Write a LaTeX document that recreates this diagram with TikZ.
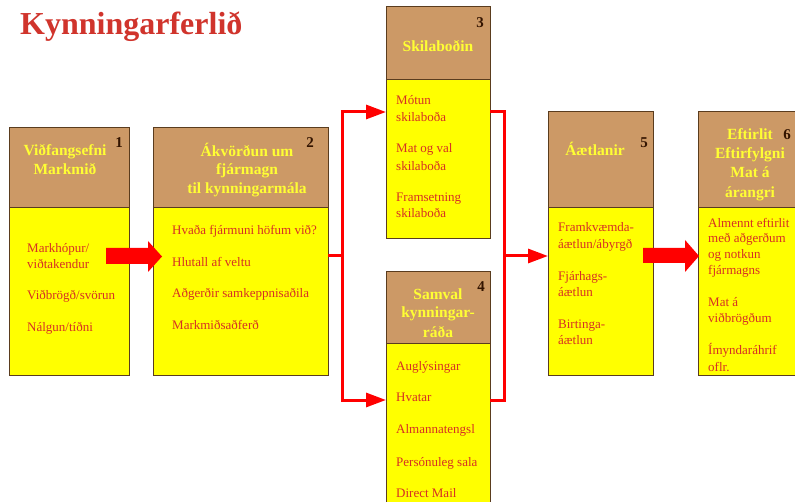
\documentclass[tikz,border=0pt]{standalone}
\usepackage{fontspec}
\setmainfont{Liberation Serif}
\usetikzlibrary{arrows.meta}

\definecolor{hdrfill}{RGB}{204,153,102}
\definecolor{bodyfill}{RGB}{255,255,0}
\definecolor{edgebrown}{RGB}{90,60,30}
\definecolor{hdrtext}{RGB}{255,255,51}
\definecolor{itemtext}{RGB}{214,48,36}
\definecolor{numtext}{RGB}{51,20,0}
\definecolor{titletext}{RGB}{208,52,44}
\definecolor{flowred}{RGB}{255,0,0}

\tikzset{
  hdrbox/.style={draw=edgebrown, line width=1pt, fill=hdrfill, anchor=north west, inner sep=0pt, outer sep=0pt},
  bodybox/.style={draw=edgebrown, line width=1pt, fill=bodyfill, anchor=north west, inner sep=0pt, outer sep=0pt},
  hdrtxt/.style={text=hdrtext, font=\fontsize{15.5}{18}\selectfont\bfseries, anchor=base, inner sep=0pt},
  numtxt/.style={text=numtext, font=\fontsize{15}{18}\selectfont\bfseries, anchor=base, inner sep=0pt},
  itemtxt/.style={text=itemtext, font=\fontsize{13}{16}\selectfont, anchor=base west, inner sep=0pt},
  titletxt/.style={text=titletext, font=\fontsize{32}{36}\selectfont\bfseries, anchor=base west, inner sep=0pt},
  flow/.style={draw=flowred, line width=3pt, line join=miter},
  flowarrow/.style={flow, -{Triangle[length=20pt,width=14pt]}},
  blockarrow/.style={fill=flowred},
}

\begin{document}
\begin{tikzpicture}[x=1pt,y=-1pt]
\path[use as bounding box] (0,0) rectangle (795,502);
\clip (0,0) rectangle (795,502);

% title
\node[titletxt] (title) at (20,35) {Kynningarferlið};

% stage boxes: header + body
\node[hdrbox, minimum width=120pt, minimum height=80pt] (b1head) at (9,128) {};
\node[bodybox, minimum width=120pt, minimum height=168pt] (b1body) at (9,208) {};
\node[hdrbox, minimum width=175pt, minimum height=80pt] (b2head) at (153,128) {};
\node[bodybox, minimum width=175pt, minimum height=168pt] (b2body) at (153,208) {};
\node[hdrbox, minimum width=104pt, minimum height=73pt] (b3head) at (386,7) {};
\node[bodybox, minimum width=104pt, minimum height=159pt] (b3body) at (386,80) {};
\node[hdrbox, minimum width=104pt, minimum height=72pt] (b4head) at (386,272) {};
\node[bodybox, minimum width=104pt, minimum height=170pt] (b4body) at (386,344) {};
\node[hdrbox, minimum width=105pt, minimum height=96pt] (b5head) at (548,112) {};
\node[bodybox, minimum width=105pt, minimum height=168pt] (b5body) at (548,208) {};
\node[hdrbox, minimum width=110pt, minimum height=96pt] (b6head) at (698,112) {};
\node[bodybox, minimum width=110pt, minimum height=168pt] (b6body) at (698,208) {};

% header titles and step numbers
\node[hdrtxt] (h1a) at (65,156) {Viðfangsefni};
\node[hdrtxt] (h1b) at (65,175) {Markmið};
\node[numtxt] (n1) at (119,148) {1};

\node[hdrtxt] (h2a) at (247,157) {Ákvörðun um};
\node[hdrtxt] (h2b) at (247,175) {fjármagn};
\node[hdrtxt] (h2c) at (247,194) {til kynningarmála};
\node[numtxt] (n2) at (310,148) {2};

\node[hdrtxt] (h3a) at (438,52) {Skilaboðin};
\node[numtxt] (n3) at (480,28) {3};

\node[hdrtxt] (h4a) at (438,300) {Samval};
\node[hdrtxt] (h4b) at (438,318) {kynningar-};
\node[hdrtxt] (h4c) at (438,338) {ráða};
\node[numtxt] (n4) at (481,292) {4};

\node[hdrtxt] (h5a) at (595,156) {Áætlanir};
\node[numtxt] (n5) at (644,148) {5};

\node[hdrtxt] (h6a) at (750,140) {Eftirlit};
\node[hdrtxt] (h6b) at (750,159) {Eftirfylgni};
\node[hdrtxt] (h6c) at (750,178) {Mat á};
\node[hdrtxt] (h6d) at (750,198) {árangri};
\node[numtxt] (n6) at (787,140) {6};

% body items
\node[itemtxt] (i1a) at (27,252.5) {Markhópur/};
\node[itemtxt] (i1b) at (27,268.5) {viðtakendur};
\node[itemtxt] (i1c) at (27,299.5) {Viðbrögð/svörun};
\node[itemtxt] (i1d) at (27,331.5) {Nálgun/tíðni};

\node[itemtxt] (i2a) at (172,234.5) {Hvaða fjármuni höfum við?};
\node[itemtxt] (i2b) at (172,266.5) {Hlutall af veltu};
\node[itemtxt] (i2c) at (172,297.5) {Aðgerðir samkeppnisaðila};
\node[itemtxt] (i2d) at (172,329.5) {Markmiðsaðferð};

\node[itemtxt] (i3a) at (396,104.5) {Mótun};
\node[itemtxt] (i3b) at (396,121.5) {skilaboða};
\node[itemtxt] (i3c) at (396,152.5) {Mat og val};
\node[itemtxt] (i3d) at (396,170.5) {skilaboða};
\node[itemtxt] (i3e) at (396,201.5) {Framsetning};
\node[itemtxt] (i3f) at (396,217.5) {skilaboða};

\node[itemtxt] (i4a) at (396,370.5) {Auglýsingar};
\node[itemtxt] (i4b) at (396,401.5) {Hvatar};
\node[itemtxt] (i4c) at (396,433.5) {Almannatengsl};
\node[itemtxt] (i4d) at (396,466.5) {Persónuleg sala};
\node[itemtxt] (i4e) at (396,497.5) {Direct Mail};

\node[itemtxt] (i5a) at (558,232) {Framkvæmda-};
\node[itemtxt] (i5b) at (558,249) {áætlun/ábyrgð};
\node[itemtxt] (i5c) at (558,281) {Fjárhags-};
\node[itemtxt] (i5d) at (558,297) {áætlun};
\node[itemtxt] (i5e) at (558,329) {Birtinga-};
\node[itemtxt] (i5f) at (558,345) {áætlun};

\node[itemtxt] (i6a) at (708,227.5) {Almennt eftirlit};
\node[itemtxt] (i6b) at (708,243) {með aðgerðum};
\node[itemtxt] (i6c) at (708,258.5) {og notkun};
\node[itemtxt] (i6d) at (708,274.5) {fjármagns};
\node[itemtxt] (i6e) at (708,306.5) {Mat á};
\node[itemtxt] (i6f) at (708,322.5) {viðbrögðum};
\node[itemtxt] (i6g) at (708,354.5) {Ímyndaráhrif};
\node[itemtxt] (i6h) at (708,371.5) {oflr.};

% block arrows 1 -> 2 and 5 -> 6
\fill[blockarrow] (106,248) -- (148,248) -- (148,241) -- (162,256.5) -- (148,272) -- (148,264) -- (106,264) -- cycle;
\fill[blockarrow] (643,248) -- (685,248) -- (685,240) -- (699,256) -- (685,272) -- (685,263) -- (643,263) -- cycle;

% split from step 2 to steps 3 and 4
\coordinate (f1) at (342,256);
\coordinate (f1a) at (342,112);
\coordinate (f1b) at (342,400);
\draw[flow] (b2body.east |- f1) -- (f1);
\draw[flowarrow] (f1) |- (b3body.west |- f1a);
\draw[flowarrow] (f1) |- (b4body.west |- f1b);

% join from steps 3 and 4 to step 5
\coordinate (f2) at (504,256);
\draw[flow] (b3body.east |- f1a) -| (f2) |- (b4body.east |- f1b);
\draw[flowarrow] (f2) -- (b5body.west |- f2);
\end{tikzpicture}
\end{document}
